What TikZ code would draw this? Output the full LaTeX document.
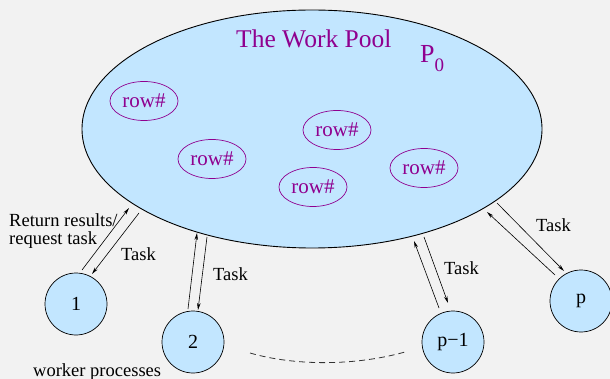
\documentclass[tikz,border=0pt]{standalone}
\usepackage{fontspec}
\setmainfont{Liberation Serif}
\newfontfamily\tms{Liberation Serif}
\usetikzlibrary{arrows.meta,shapes.geometric}
\definecolor{bg}{HTML}{F2F2F2}
\definecolor{pool}{HTML}{C2E6FF}
\definecolor{purp}{HTML}{8F008F}
\begin{document}
\begin{tikzpicture}[x=1pt,y=-1pt,
  poolshape/.style={draw=black, fill=pool, ellipse, inner sep=0pt, line width=0.9pt,
    minimum width=460pt, minimum height=238pt},
  rowbox/.style={draw=purp, ellipse, inner sep=0pt, line width=0.7pt, text=purp,
    minimum width=68pt, minimum height=39pt, font=\tms\fontsize{21}{24}\selectfont},
  worker/.style={draw=black, fill=pool, circle, inner sep=0pt, line width=0.7pt,
    minimum size=62pt, font=\tms\fontsize{20}{24}\selectfont},
  lbl/.style={anchor=base west, inner sep=0pt, font=\tms\fontsize{18.5}{21}\selectfont},
  arr/.style={-{Stealth[length=7pt,width=3.5pt]}, line width=0.6pt},
  dashline/.style={dash pattern=on 6pt off 4pt, line width=0.8pt, black!80}
]
\fill[bg] (0,0) rectangle (610,379);
\useasboundingbox (0,0) rectangle (610,379);

\node[poolshape] (pool) at (312,129) {};
\node[anchor=base west, inner sep=0pt, text=purp, font=\tms\fontsize{25.5}{30}\selectfont] (title) at (236,48) {The Work Pool};
\node[anchor=base west, inner sep=0pt, text=purp, font=\tms\fontsize{26}{30}\selectfont] (p0) at (420,63) {P\raisebox{-9pt}{\fontsize{19}{22}\selectfont 0}};

\node[rowbox] (r1) at (144,101) {row\#};
\node[rowbox] (r2) at (212,159) {row\#};
\node[rowbox] (r3) at (337,130) {row\#};
\node[rowbox] (r4) at (313,187) {row\#};
\node[rowbox] (r5) at (424,168) {row\#};

\node[worker] (w1) at (76,304) {1};
\node[worker] (w2) at (193,342) {2};
\node[worker] (wpm) at (453,342) {p−1};
\node[worker] (wp) at (581,301) {p};

% arrow end points
\coordinate (a1s) at (82,270);  \coordinate (a1e) at (129,208);
\coordinate (b1s) at (139,213); \coordinate (b1e) at (92,274);
\coordinate (a2s) at (188,309); \coordinate (a2e) at (197,233);
\coordinate (b2s) at (207,237); \coordinate (b2e) at (198,310);
\coordinate (a3s) at (439,308); \coordinate (a3e) at (414,241);
\coordinate (b3s) at (424,237); \coordinate (b3e) at (448,303);
\coordinate (a4s) at (555,275); \coordinate (a4e) at (487,212);
\coordinate (b4s) at (497,203); \coordinate (b4e) at (564,271);

\draw[arr] (a1s) -- (a1e);
\draw[arr] (b1s) -- (b1e);
\draw[arr] (a2s) -- (a2e);
\draw[arr] (b2s) -- (b2e);
\draw[arr] (a3s) -- (a3e);
\draw[arr] (b3s) -- (b3e);
\draw[arr] (a4s) -- (a4e);
\draw[arr] (b4s) -- (b4e);

\node[lbl] (t1) at (121,261) {Task};
\node[lbl] (t2) at (213,280) {Task};
\node[lbl] (t3) at (444,274) {Task};
\node[lbl] (t4) at (536,232) {Task};
\node[lbl] (ret1) at (9,227) {Return results/};
\node[lbl] (ret2) at (9,245) {request task};
\node[lbl] (wk) at (33,376) {worker processes};

\coordinate (dl) at (250,353);
\coordinate (dr) at (405,352);
\draw[dashline] (dl) .. controls (295,366) and (355,366) .. (dr);
\end{tikzpicture}
\end{document}
